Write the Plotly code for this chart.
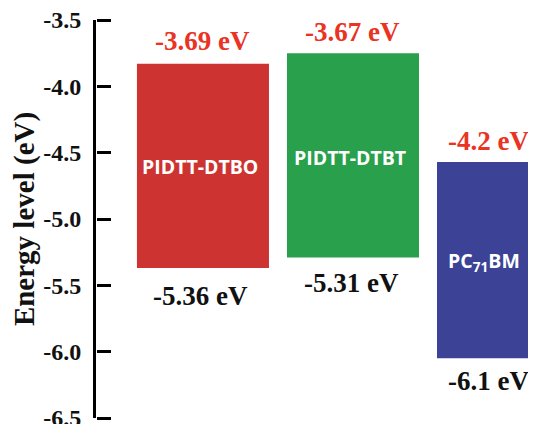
import plotly.graph_objects as go

# Data
materials = ["PIDTT-DTBO", "PIDTT-DTBT", "PC<sub>71</sub>BM"]
lumo_drawn = [-3.83, -3.75, -4.57]   # bar top as drawn
homo_drawn = [-5.37, -5.29, -6.05]   # bar bottom as drawn
lumo_labels = ["-3.69 eV", "-3.67 eV", "-4.2 eV"]
homo_labels = ["-5.36 eV", "-5.31 eV", "-6.1 eV"]
bar_colors = ["#CD3431", "#29A04B", "#3C4396"]
y_ticks = [-6.5, -6.0, -5.5, -5.0, -4.5, -4.0, -3.5]
y_tick_text = ["-6.5", "-6.0", "-5.5", "-5.0", "-4.5", "-4.0", "-3.5"]
y_range = [-6.5, -3.5]

xs = list(range(len(materials)))
heights = [t - b for t, b in zip(lumo_drawn, homo_drawn)]

fig = go.Figure()
fig.add_trace(go.Bar(
    x=xs, y=heights, base=homo_drawn, width=0.88,
    marker=dict(color=bar_colors, line=dict(width=0)),
    hoverinfo="skip", showlegend=False,
))
# invisible helper trace so the tick-mark axis is drawn
fig.add_trace(go.Scatter(
    x=xs, y=lumo_drawn, yaxis="y2", mode="markers",
    marker=dict(opacity=0), hoverinfo="skip", showlegend=False,
))

serif = "Liberation Serif, Times New Roman, serif"
sans = "Open Sans, Noto Sans, sans-serif"

ann = []
lumo_xshift = [0, 0, -15]
homo_xshift = [-2, -1, -15]
lumo_yshift = [23, 21, 21]
homo_yshift = [-28, -26, -23]
for i in xs:
    ann.append(dict(x=i, y=lumo_drawn[i], text=lumo_labels[i], showarrow=False,
                    xshift=lumo_xshift[i], yshift=lumo_yshift[i], yanchor="middle",
                    font=dict(family=serif, size=27, color="#EA3323", weight="bold")))
    ann.append(dict(x=i, y=homo_drawn[i], text=homo_labels[i], showarrow=False,
                    xshift=homo_xshift[i], yshift=homo_yshift[i], yanchor="middle",
                    font=dict(family=serif, size=27, color="#111111", weight="bold")))
name_xshift = [-3, -3, -19]
name_yshift = [-103, -104, -100]
for i in xs:
    ann.append(dict(x=i, y=lumo_drawn[i], text=materials[i], showarrow=False,
                    xshift=name_xshift[i], yshift=name_yshift[i], yanchor="middle",
                    font=dict(family=sans, size=19.5, color="white", weight="bold")))

# the page body adds an 8 px offset, so the figure is 8 px smaller
fig.update_layout(
    width=528, height=416,
    margin=dict(l=88, r=0, t=12, b=6, autoexpand=False),
    paper_bgcolor="white", plot_bgcolor="white",
    annotations=ann,
    xaxis=dict(range=[-0.713, 2.22], visible=False, fixedrange=True, automargin=False),
    yaxis=dict(
        range=y_range, tickvals=y_ticks, ticktext=y_tick_text,
        showline=True, linecolor="black", linewidth=3, automargin=False,
        ticks="", showgrid=False, zeroline=False, ticklabelstandoff=7,
        ticklabeloverflow="allow",
        tickfont=dict(family=serif, size=24, color="#111111", weight="bold"),
        title=dict(text="Energy level (eV)", standoff=8,
                   font=dict(family=serif, size=29, color="#111111", weight="bold")),
    ),
    # rightward tick marks from the left edge, on an overlaid axis
    yaxis2=dict(
        overlaying="y", anchor="free", position=0, side="right", range=y_range,
        tickvals=y_ticks, showticklabels=False, showline=False,
        ticks="outside", ticklen=14, tickwidth=3, tickcolor="black",
        showgrid=False, zeroline=False, automargin=False, fixedrange=True,
    ),
)

fig.write_html("out.html")
